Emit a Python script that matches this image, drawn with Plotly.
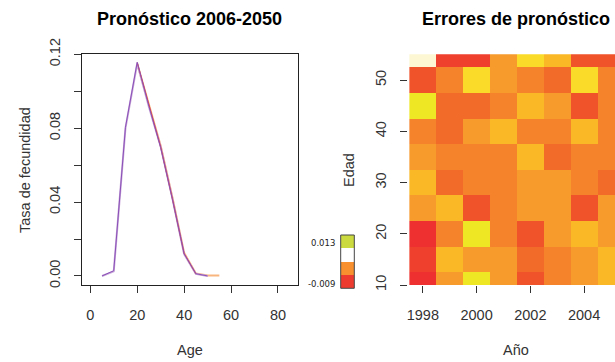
import plotly.graph_objects as go

W, H = 615, 362

# ---------------- data: left panel (forecast curves) ----------------
edades = [5, 10, 15, 20, 25, 30, 35, 40, 45, 50]
tasa_lavanda = [0.0000, 0.0025, 0.0800, 0.1150, 0.0915, 0.0700, 0.0420, 0.0118, 0.0011, 0.0000]
tasa_morado = [0.0000, 0.0028, 0.0805, 0.1157, 0.0918, 0.0695, 0.0415, 0.0120, 0.0012, 0.0000]
edades_naranja = [20, 25, 30, 35, 40, 45, 50, 55]
tasa_naranja = [0.1150, 0.0925, 0.0705, 0.0425, 0.0125, 0.0013, 0.0002, 0.0002]
edades_rojo = [20, 25, 30, 35, 40, 45]
tasa_rojo = [0.1155, 0.0920, 0.0700, 0.0420, 0.0122, 0.0012]

x_ticks_izq = [0, 20, 40, 60, 80]
y_ticks_izq = [0.00, 0.02, 0.04, 0.06, 0.08, 0.10, 0.12]
y_text_izq = ["0.00", "", "0.04", "", "0.08", "", "0.12"]

# ---------------- data: right panel (forecast errors heatmap) ----------------
anios = [1998, 1999, 2000, 2001, 2002, 2003, 2004, 2005]
edades_err = [10, 15, 20, 25, 30, 35, 40, 45, 50, 55]
# colour class of each cell (0 = most negative error ... 9 = largest), rows = ages 10..55
nivel_error = [
    [0, 5, 8, 5, 2, 4, 5, 6],  # 10
    [1, 6, 5, 5, 3, 4, 5, 6],  # 15
    [0, 4, 8, 4, 2, 5, 6, 5],  # 20
    [5, 6, 2, 4, 5, 5, 2, 5],  # 25
    [6, 3, 4, 4, 5, 5, 4, 3],  # 30
    [5, 4, 4, 4, 6, 3, 4, 4],  # 35
    [4, 3, 5, 6, 4, 4, 6, 4],  # 40
    [8, 3, 3, 4, 6, 5, 2, 4],  # 45
    [2, 4, 7, 5, 4, 3, 7, 4],  # 50
    [9, 1, 1, 5, 7, 6, 2, 2],  # 55
]
paleta = ["#EE3130", "#EF3F2D", "#F05229", "#F26B29", "#F4832B",
          "#F79B2D", "#FBB826", "#FBDB2A", "#EEE724", "#FDF7D4"]

x_ticks_der = [1998, 2000, 2002, 2004]
y_ticks_der = [10, 20, 30, 40, 50]

# legend key
leyenda_nivel = [[0], [1], [2], [3]]
leyenda_colores = ["#EE3B2F", "#F8902F", "#FFFFFF", "#CBDB3F"]
leyenda_etiquetas = ["0.013", "-0.009"]


def px_x(p):
    return p / W


def px_y(p):
    return 1 - p / H


def escala_discreta(cols):
    n = len(cols)
    cs = []
    for i, c in enumerate(cols):
        cs.append([i / n, c])
        cs.append([(i + 1) / n, c])
    return cs


fig = go.Figure()

# left panel lines
fig.add_trace(go.Scatter(x=edades_naranja, y=tasa_naranja, mode="lines",
                         line=dict(color="#F9B57E", width=2), xaxis="x", yaxis="y",
                         showlegend=False, hoverinfo="skip"))
fig.add_trace(go.Scatter(x=edades, y=tasa_lavanda, mode="lines",
                         line=dict(color="#C9AAD9", width=2), xaxis="x", yaxis="y",
                         showlegend=False, hoverinfo="skip"))
fig.add_trace(go.Scatter(x=edades_rojo, y=tasa_rojo, mode="lines",
                         line=dict(color="#E8412C", width=1), xaxis="x", yaxis="y",
                         showlegend=False, hoverinfo="skip"))
fig.add_trace(go.Scatter(x=edades, y=tasa_morado, mode="lines",
                         line=dict(color="#8A4FB8", width=1), xaxis="x", yaxis="y",
                         showlegend=False, hoverinfo="skip"))

# right panel heatmap
fig.add_trace(go.Heatmap(x=anios, y=edades_err, z=nivel_error,
                         colorscale=escala_discreta(paleta), zmin=-0.5, zmax=len(paleta) - 0.5,
                         showscale=False, xaxis="x2", yaxis="y2", hoverinfo="skip",
                         xgap=0, ygap=0))

# legend key as small heatmap
fig.add_trace(go.Heatmap(z=leyenda_nivel, x=[0], y=[0, 1, 2, 3],
                         colorscale=escala_discreta(leyenda_colores), zmin=-0.5,
                         zmax=len(leyenda_colores) - 0.5, showscale=False,
                         xaxis="x3", yaxis="y3", hoverinfo="skip"))

font_fam = "Liberation Sans, Arial, sans-serif"
tick_font = dict(family=font_fam, size=14.5, color="#333333")

top_px, bot_px = 54.3, 285.0

fig.update_layout(
    width=W, height=H, autosize=False,
    margin=dict(l=0, r=0, t=0, b=0, pad=0, autoexpand=False),
    paper_bgcolor="white", plot_bgcolor="white",
    showlegend=False,
    xaxis=dict(domain=[px_x(82.3), px_x(297.7)], range=[-3.4, 88.4],
               tickvals=x_ticks_izq, ticks="outside", ticklen=7, tickcolor="#333",
               showline=True, mirror=True, linecolor="#222", linewidth=1,
               showgrid=False, zeroline=False, tickfont=tick_font,
               ticklabelstandoff=10, anchor="y", automargin=False),
    yaxis=dict(domain=[px_y(bot_px), px_y(top_px)], range=[-0.0049, 0.1200],
               tickvals=y_ticks_izq, ticktext=y_text_izq, ticks="outside", ticklen=7,
               tickcolor="#333", tickangle=-90,
               showline=True, mirror=True, linecolor="#222", linewidth=1,
               showgrid=False, zeroline=False, tickfont=tick_font,
               ticklabelstandoff=9, anchor="x", automargin=False),
    xaxis2=dict(domain=[px_x(408.3), 1.0], range=[1997.46, 2005.15],
                tickvals=x_ticks_der, ticks="outside", ticklen=7, tickcolor="#333",
                showline=False, showgrid=False, zeroline=False, tickfont=tick_font,
                ticklabelstandoff=10, anchor="y2", automargin=False),
    yaxis2=dict(domain=[px_y(bot_px), px_y(top_px)], range=[10, 55.05],
                tickvals=y_ticks_der, ticks="outside", ticklen=7, tickcolor="#333",
                tickangle=-90, showline=False, showgrid=False, zeroline=False,
                tickfont=tick_font, ticklabelstandoff=9, anchor="x2", automargin=False),
    xaxis3=dict(domain=[px_x(340.7), px_x(354.3)], range=[-0.5, 0.5],
                visible=False, fixedrange=True, anchor="y3"),
    yaxis3=dict(domain=[px_y(288.3), px_y(235.0)], range=[-0.5, 3.5],
                visible=False, fixedrange=True, anchor="x3"),
)

# border around the legend key
fig.add_shape(type="rect", xref="paper", yref="paper",
              x0=px_x(340.7), x1=px_x(354.3), y0=px_y(288.3), y1=px_y(235.0),
              line=dict(color="#444", width=1), fillcolor="rgba(0,0,0,0)")

ann = []
title_font = dict(family=font_fam, size=18, color="black")
ann.append(dict(text="<b>Pronóstico 2006-2050</b>", x=px_x(189.5), y=px_y(19),
                xref="paper", yref="paper", showarrow=False, font=title_font,
                xanchor="center", yanchor="middle"))
ann.append(dict(text="<b>Errores de pronóstico</b>", x=px_x(515.5), y=px_y(19),
                xref="paper", yref="paper", showarrow=False, font=title_font,
                xanchor="center", yanchor="middle"))
lab_font = dict(family=font_fam, size=14.5, color="#333333")
ann.append(dict(text="Age", x=px_x(190), y=px_y(350), xref="paper", yref="paper",
                showarrow=False, font=lab_font, xanchor="center", yanchor="middle"))
ann.append(dict(text="Tasa de fecundidad", x=px_x(25), y=px_y(170), xref="paper",
                yref="paper", showarrow=False, font=lab_font, textangle=-90,
                xanchor="center", yanchor="middle"))
ann.append(dict(text="Año", x=px_x(516), y=px_y(350), xref="paper", yref="paper",
                showarrow=False, font=lab_font, xanchor="center", yanchor="middle"))
ann.append(dict(text="Edad", x=px_x(349), y=px_y(170), xref="paper", yref="paper",
                showarrow=False, font=lab_font, textangle=-90,
                xanchor="center", yanchor="middle"))
small_font = dict(family="DejaVu Sans, sans-serif", size=8.5, color="#222")
ann.append(dict(text=leyenda_etiquetas[0], x=px_x(336.5), y=px_y(242.5), xref="paper",
                yref="paper", showarrow=False, font=small_font,
                xanchor="right", yanchor="middle"))
ann.append(dict(text=leyenda_etiquetas[1], x=px_x(336.5), y=px_y(283.5), xref="paper",
                yref="paper", showarrow=False, font=small_font,
                xanchor="right", yanchor="middle"))
fig.update_layout(annotations=ann)

fig.write_html("out.html")

# make sure the page itself adds no margin around the figure
with open("out.html", "r", encoding="utf-8") as fh:
    page = fh.read()
page = page.replace("<head>", "<head><style>html,body{margin:0;padding:0;overflow:hidden;}</style>", 1)
with open("out.html", "w", encoding="utf-8") as fh:
    fh.write(page)
